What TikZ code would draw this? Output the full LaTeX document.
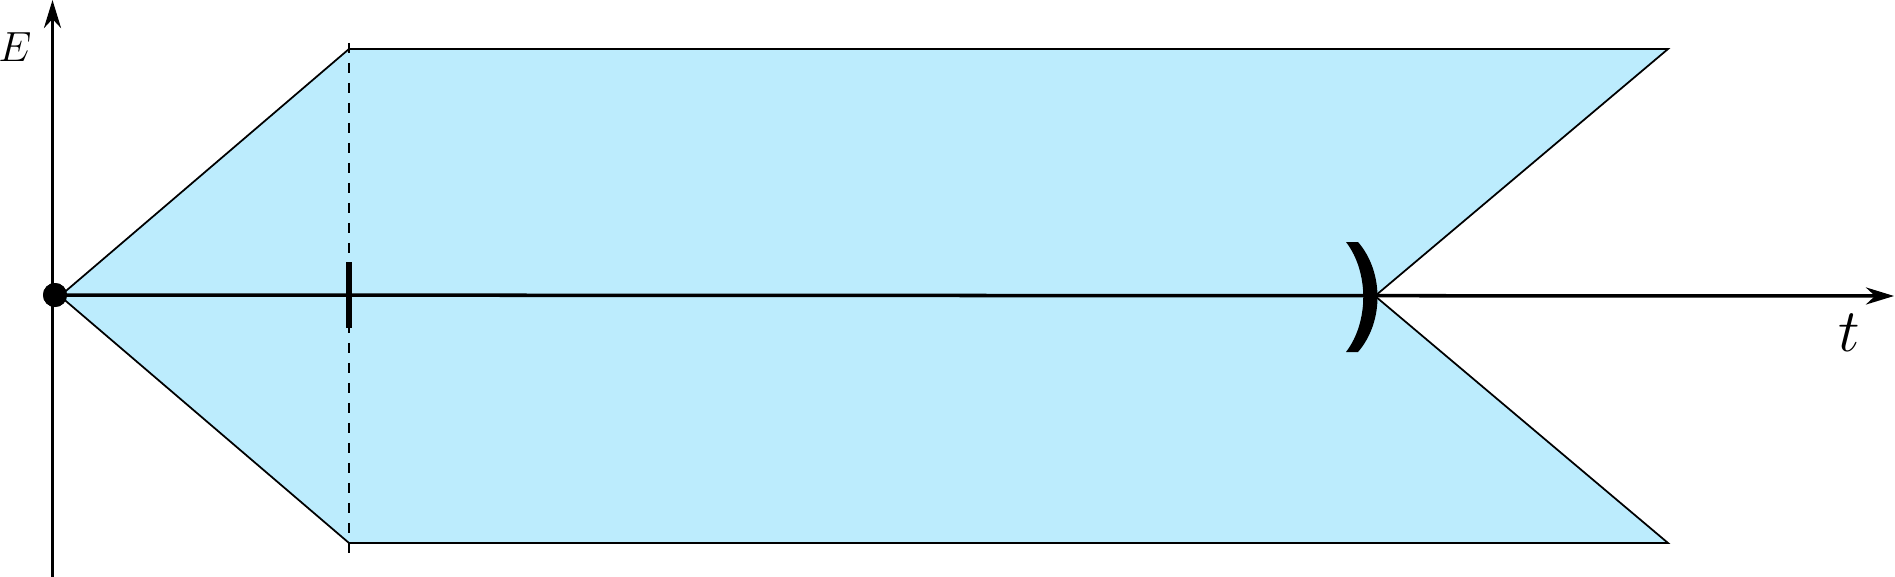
\documentclass[tikz,border=0pt]{standalone}
\usetikzlibrary{arrows.meta}
\definecolor{bandfill}{RGB}{188,236,253}

\begin{document}
\begin{tikzpicture}[
  x=0.1mm, y=-0.1mm,
  band/.style    ={draw=black, line width=0.5pt, line join=miter},
  guide/.style   ={draw=black, line width=0.5pt, dash pattern=on 1mm off 1mm},
  axis/.style    ={line width=1pt, -{Stealth[length=2.8mm, width=1.7mm, inset=0.9mm]}},
  tickmark/.style={line width=1.5pt},
  endpt/.style   ={circle, fill=black, inner sep=0pt, minimum size=2.4mm},
]
\useasboundingbox (0,0) rectangle (1895,577);

% ============================ corner points of the band =====================
\coordinate (lv) at (60,296);
\coordinate (tl) at (349,49);
\coordinate (tr) at (1668,49);
\coordinate (nv) at (1375,296);
\coordinate (br) at (1668,543);
\coordinate (bl) at (349,543);

\fill[bandfill] (lv) -- (tl) -- (tr) -- (nv) -- (br) -- (bl) -- cycle;

% dashed guide through the left corners
\coordinate (gtop) at (349,43);
\coordinate (gbot) at (349,553);
\draw[guide] (gtop) -- (gbot);

\draw[band] (lv) -- (tl) -- (tr) -- (nv) -- (br) -- (bl) -- cycle;

% ============================ axes ==========================================
\node[endpt] (dot) at (55,295) {};
\coordinate (ebot) at (52.5,577);
\coordinate (etop) at (52.5,0);
\coordinate (tend) at (1894,296);

\draw[axis] (ebot) -- (etop);
\draw[axis] (dot.center) -- (tend);
\node[endpt] at (dot) {};

\node[font=\fontsize{12}{14}\selectfont] (elab) at (15,47) {$E$};
\node[font=\fontsize{18.5}{22}\selectfont] (tlab) at (1849,333) {$t$};

% tick on the time axis
\coordinate (ktop) at (349,262);
\coordinate (kbot) at (349,328);
\draw[tickmark] (ktop) -- (kbot);

% open end at the notch
\fill (1346,242) -- (1358,242) .. controls (1384,272) and (1384,322) .. (1358,352)
      -- (1346,352) .. controls (1369,322) and (1369,272) .. (1346,242) -- cycle;

\end{tikzpicture}
\end{document}
